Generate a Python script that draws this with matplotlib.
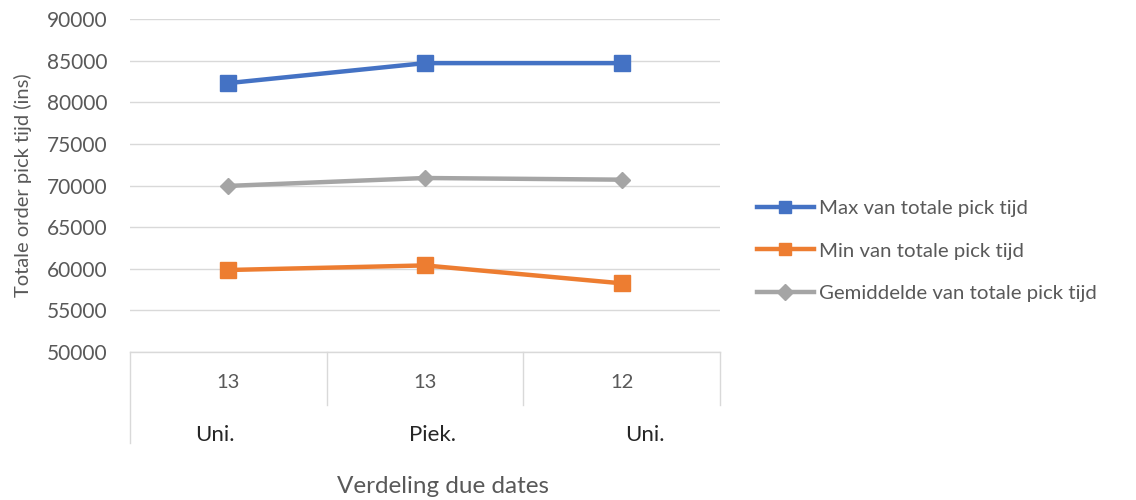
import matplotlib
matplotlib.use("Agg")
import matplotlib.pyplot as plt
from matplotlib.transforms import blended_transform_factory

plt.rcParams['font.family'] = ['Lato', 'DejaVu Sans']

# Data
group_labels = ["Uni.", "Piek.", "Uni."]
sub_labels = ["13", "13", "12"]
max_vals = [82300, 84700, 84700]
min_vals = [59850, 60400, 58250]
avg_vals = [69950, 70900, 70700]
series_names = ["Max van totale pick tijd", "Min van totale pick tijd",
                "Gemiddelde van totale pick tijd"]

TEXT = "#595959"
GRID = "#d9d9d9"

fig = plt.figure(figsize=(11.36, 5.0), dpi=100)
ax = fig.add_axes([0.1144, 0.296, 0.5194, 0.666])

x = list(range(len(sub_labels)))
ax.plot(x, max_vals, color="#4472C4", lw=3.2, marker="s", ms=11, label=series_names[0])
ax.plot(x, min_vals, color="#ED7D31", lw=3.2, marker="s", ms=11, label=series_names[1])
ax.plot(x, avg_vals, color="#A5A5A5", lw=3.2, marker="D", ms=8, label=series_names[2])

ax.set_xlim(-0.5, len(x) - 0.5)
ax.set_ylim(50000, 90000)
ax.set_yticks(range(50000, 90001, 5000))
ax.tick_params(axis="y", length=0, pad=16, labelsize=15, labelcolor=TEXT)
ax.set_xticks([])
ax.grid(axis="y", color=GRID, lw=1)
ax.set_axisbelow(True)
for s in ["top", "right", "left"]:
    ax.spines[s].set_visible(False)
ax.spines["bottom"].set_color(GRID)
ax.spines["bottom"].set_linewidth(1)

# Two-level category axis
tr = blended_transform_factory(ax.transData, ax.transAxes)
inner_depth = -0.159
outer_depth = -0.273
for b in [0.5, 1.5]:
    ax.plot([b, b], [0, inner_depth], transform=tr, color=GRID, lw=1, clip_on=False)
ax.plot([-0.5, -0.5], [0, outer_depth], transform=tr, color=GRID, lw=1, clip_on=False)
ax.plot([2.5, 2.5], [0, inner_depth], transform=tr, color=GRID, lw=1, clip_on=False)

for xi, lab in zip(x, sub_labels):
    ax.text(xi, -0.093, lab, transform=tr, ha="center", va="center",
            fontsize=14.5, color=TEXT)
outer_offsets = [-0.07, 0.04, 0.12]
for xi, lab, off in zip(x, group_labels, outer_offsets):
    ax.text(xi + off, -0.249, lab, transform=tr, ha="center", va="center",
            fontsize=16, color="#262626")

ax.text(0.53, -0.405, "Verdeling due dates", transform=ax.transAxes,
        ha="center", va="center", fontsize=17.5, color=TEXT)
fig.text(0.02, 0.63, "Totale order pick tijd (ins)", rotation=90,
         ha="center", va="center", fontsize=14.5, color=TEXT)

leg = ax.legend(loc="center left", bbox_to_anchor=(0.650, 0.498),
                bbox_transform=fig.transFigure, frameon=False,
                fontsize=14.7, handlelength=2.8, handletextpad=0.25,
                labelspacing=1.22, labelcolor=TEXT)
for h in leg.get_lines():
    h.set_markersize(8)

fig.savefig("out.png", dpi=100)
